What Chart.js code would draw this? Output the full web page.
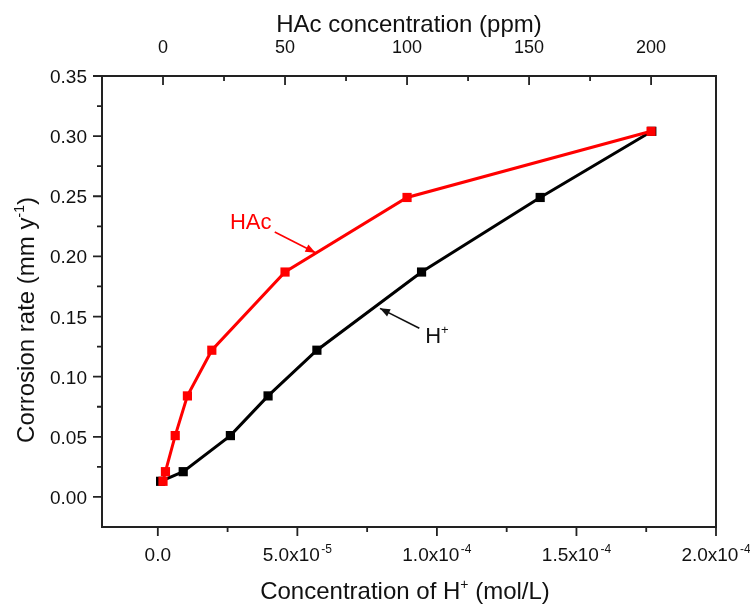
<!DOCTYPE html>
<html>
<head>
<meta charset="utf-8">
<script src="https://cdn.jsdelivr.net/npm/chart.js@4.4.0/dist/chart.umd.min.js"></script>
<style>
    html, body { margin: 0; padding: 0; background: #fff; }
    #wrap { width: 750px; height: 605px; position: relative; }
</style>
</head>
<body>
<div id="wrap"><canvas id="corrChart"></canvas></div>
<script>
// Данные
const hacPpm = [0, 1, 5, 10, 20, 50, 100, 200];
const hConc = [1.0e-6, 9.1e-6, 2.6e-5, 3.95e-5, 5.7e-5, 9.45e-5, 1.37e-4, 1.77e-4];
const corrRate = [0.013, 0.021, 0.051, 0.084, 0.122, 0.187, 0.249, 0.304];

// Деления осей
const yTicks = [0, 0.05, 0.10, 0.15, 0.20, 0.25, 0.30, 0.35];
const yMinor = [0.025, 0.075, 0.125, 0.175, 0.225, 0.275, 0.325];
const hTicks = [0, 5e-5, 1e-4, 1.5e-4, 2e-4];
const hTickBase = ['0.0', '5.0x10', '1.0x10', '1.5x10', '2.0x10'];
const hTickExp = ['', '-5', '-4', '-4', '-4'];
const hMinor = [2.5e-5, 7.5e-5, 1.25e-4, 1.75e-4];
const ppmTicks = [0, 50, 100, 150, 200];
const ppmMinor = [25, 75, 125, 175];

const FONT = '"Liberation Sans", Arial, sans-serif';

// Текст с верхним индексом
function drawSup(ctx, base, sup, x, y, size, align, supScale, gap) {
    supScale = supScale || 0.6;
    gap = gap || 0;
    ctx.font = size + 'px ' + FONT;
    const wBase = ctx.measureText(base).width;
    const supSize = Math.round(size * supScale);
    ctx.font = supSize + 'px ' + FONT;
    const wSup = sup ? ctx.measureText(sup).width + gap : 0;
    const total = wBase + wSup;
    let left = x;
    if (align === 'center') left = x - total / 2;
    if (align === 'right') left = x - total;
    ctx.textAlign = 'left';
    ctx.font = size + 'px ' + FONT;
    ctx.fillText(base, left, y);
    if (sup) {
        ctx.font = supSize + 'px ' + FONT;
        ctx.fillText(sup, left + wBase + gap, y - size * 0.42);
    }
    return left + total;
}

function arrow(ctx, x1, y1, x2, y2, color) {
    ctx.save();
    ctx.strokeStyle = color;
    ctx.fillStyle = color;
    ctx.lineWidth = 1.6;
    ctx.beginPath();
    ctx.moveTo(x1, y1);
    ctx.lineTo(x2, y2);
    ctx.stroke();
    const a = Math.atan2(y2 - y1, x2 - x1);
    const len = 10, half = 4;
    ctx.beginPath();
    ctx.moveTo(x2, y2);
    ctx.lineTo(x2 - len * Math.cos(a) + half * Math.sin(a), y2 - len * Math.sin(a) - half * Math.cos(a));
    ctx.lineTo(x2 - len * Math.cos(a) - half * Math.sin(a), y2 - len * Math.sin(a) + half * Math.cos(a));
    ctx.closePath();
    ctx.fill();
    ctx.restore();
}

// Рамка, деления, подписи
const framePlugin = {
    id: 'frame',
    beforeDraw(chart) {
        const ctx = chart.ctx;
        ctx.save();
        ctx.fillStyle = '#fff';
        ctx.fillRect(0, 0, chart.width, chart.height);
        ctx.restore();
    },
    afterDraw(chart) {
        const ctx = chart.ctx;
        const area = chart.chartArea;
        const xs = chart.scales.x;
        const xt = chart.scales.x2;
        const ys = chart.scales.y;
        ctx.save();
        ctx.strokeStyle = '#222';
        ctx.lineWidth = 2;
        ctx.strokeRect(area.left, area.top, area.right - area.left, area.bottom - area.top);

        ctx.lineWidth = 1.8;
        ctx.beginPath();
        // слева - наружу
        yTicks.forEach(v => { const p = ys.getPixelForValue(v); ctx.moveTo(area.left - 9, p); ctx.lineTo(area.left, p); });
        yMinor.forEach(v => { const p = ys.getPixelForValue(v); ctx.moveTo(area.left - 5, p); ctx.lineTo(area.left, p); });
        // снизу - наружу
        hTicks.forEach(v => { const p = xs.getPixelForValue(v); ctx.moveTo(p, area.bottom); ctx.lineTo(p, area.bottom + 9); });
        hMinor.forEach(v => { const p = xs.getPixelForValue(v); ctx.moveTo(p, area.bottom); ctx.lineTo(p, area.bottom + 5); });
        // сверху - внутрь
        ppmTicks.forEach(v => { const p = xt.getPixelForValue(v); ctx.moveTo(p, area.top); ctx.lineTo(p, area.top + 9); });
        ppmMinor.forEach(v => { const p = xt.getPixelForValue(v); ctx.moveTo(p, area.top); ctx.lineTo(p, area.top + 5); });
        ctx.stroke();

        ctx.fillStyle = '#111';
        ctx.textBaseline = 'alphabetic';
        ctx.font = '19px ' + FONT;
        yTicks.forEach(v => {
            ctx.textAlign = 'right';
            ctx.fillText(v.toFixed(2), area.left - 15, ys.getPixelForValue(v) + 7);
        });
        ppmTicks.forEach(v => {
            ctx.textAlign = 'center';
            ctx.font = '18px ' + FONT;
            ctx.fillText(String(v), xt.getPixelForValue(v), 53);
        });
        hTicks.forEach((v, i) => {
            drawSup(ctx, hTickBase[i], hTickExp[i], xs.getPixelForValue(v), 561, 19, 'center', 0.65, 1.5);
        });

        // заголовки осей
        ctx.font = '24px ' + FONT;
        ctx.textAlign = 'center';
        ctx.fillText('HAc concentration (ppm)', (area.left + area.right) / 2, 32);
        const bx = drawSup(ctx, 'Concentration of H', '+', 0, -1000, 24, 'left');
        ctx.font = '24px ' + FONT;
        const restW = ctx.measureText(' (mol/L)').width;
        const startX = 405 - (bx + restW) / 2;
        const endX = drawSup(ctx, 'Concentration of H', '+', startX, 599, 24, 'left');
        ctx.font = '24px ' + FONT;
        ctx.textAlign = 'left';
        ctx.fillText(' (mol/L)', endX, 599);

        ctx.save();
        ctx.translate(34, 320);
        ctx.rotate(-Math.PI / 2);
        const w1 = drawSup(ctx, 'Corrosion rate (mm y', '-1', 0, -1000, 24, 'left');
        ctx.font = '24px ' + FONT;
        const w2 = ctx.measureText(')').width;
        const sx = -(w1 + w2) / 2;
        const ex = drawSup(ctx, 'Corrosion rate (mm y', '-1', sx, 0, 24, 'left');
        ctx.font = '24px ' + FONT;
        ctx.textAlign = 'left';
        ctx.fillText(')', ex, 0);
        ctx.restore();

        // аннотации
        ctx.fillStyle = '#ff0000';
        ctx.font = '22px ' + FONT;
        ctx.textAlign = 'center';
        ctx.fillText('HAc', xs.getPixelForValue(3.33e-5), ys.getPixelForValue(0.2294) + 8);
        arrow(ctx, xs.getPixelForValue(4.19e-5), ys.getPixelForValue(0.2203),
              xs.getPixelForValue(5.65e-5), ys.getPixelForValue(0.2031), '#ff0000');
        ctx.fillStyle = '#111';
        drawSup(ctx, 'H', '+', xs.getPixelForValue(0.958e-4), ys.getPixelForValue(0.1347) + 8, 22, 'left');
        arrow(ctx, xs.getPixelForValue(9.37e-5), ys.getPixelForValue(0.1402),
              xs.getPixelForValue(7.96e-5), ys.getPixelForValue(0.1568), '#111');
        ctx.restore();
    }
};

function initCorrosionChart() {
    const ctx = document.getElementById('corrChart');
    if (!ctx) return;

    new Chart(ctx.getContext('2d'), {
        type: 'scatter',
        data: {
            datasets: [{
                label: 'HAc',
                data: hacPpm.map((v, i) => ({ x: v, y: corrRate[i] })),
                xAxisID: 'x2',
                showLine: true,
                borderColor: '#ff0000',
                backgroundColor: '#ff0000',
                borderWidth: 3,
                pointStyle: 'rect',
                pointRadius: 6.5,
                pointBorderWidth: 0,
                pointBackgroundColor: '#ff0000'
            }, {
                label: 'H+',
                data: hConc.map((v, i) => ({ x: v, y: corrRate[i] })),
                xAxisID: 'x',
                showLine: true,
                borderColor: '#000',
                backgroundColor: '#000',
                borderWidth: 3,
                pointStyle: 'rect',
                pointRadius: 6.5,
                pointBorderWidth: 0,
                pointBackgroundColor: '#000'
            }]
        },
        options: {
            responsive: true,
            maintainAspectRatio: false,
            animation: false,
            layout: {
                padding: { left: 102, top: 76, right: 34, bottom: 78 }
            },
            plugins: {
                legend: { display: false },
                tooltip: { enabled: false }
            },
            scales: {
                x: { type: 'linear', display: false, min: -2e-5, max: 2e-4 },
                x2: { type: 'linear', display: false, min: -25, max: 226.6 },
                y: { type: 'linear', display: false, min: -0.025, max: 0.35 }
            }
        },
        plugins: [framePlugin]
    });
}

initCorrosionChart();
</script>
</body>
</html>
